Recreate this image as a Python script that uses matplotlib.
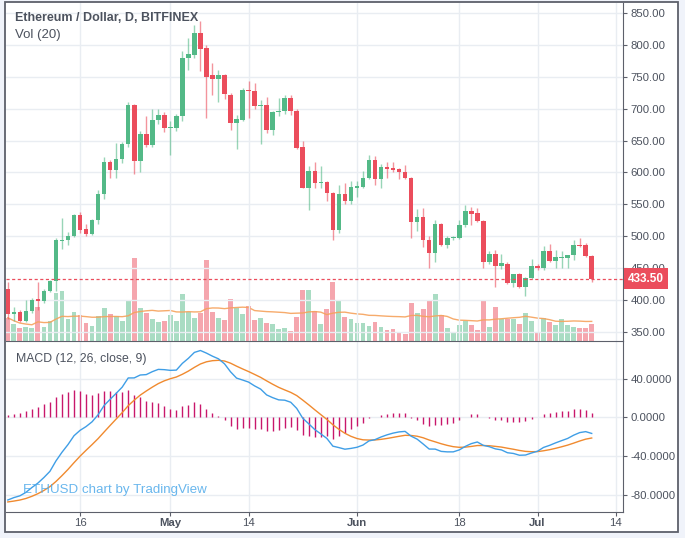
import matplotlib
matplotlib.use("Agg")
import matplotlib.pyplot as plt
import matplotlib.transforms as mtransforms
from matplotlib.patches import Rectangle
import numpy as np
import pandas as pd

W, H = 685, 538

# daily ETHUSD candles, 2018-04-04 .. 2018-07-10
START = "2018-04-04"
opens = [417, 378, 381, 368, 383, 402, 399, 415, 430, 492,
         494, 501, 533, 511, 503, 525, 567, 616, 604, 621,
         644, 705, 618, 661, 643, 683, 690, 670, 670, 688,
         780, 784, 819, 795, 752, 746, 752, 722, 678, 683,
         729, 727, 704, 706, 667, 694, 696, 716, 696, 640,
         576, 603, 584, 585, 568, 510, 566, 555, 576, 578,
         592, 619, 590, 608, 607, 605, 600, 592, 523, 530,
         494, 474, 520, 486, 497, 498, 518, 539, 536, 524,
         460, 473, 454, 457, 427, 441, 420, 435, 454, 451,
         477, 461, 466, 466, 470, 487, 487, 469]
highs = [428, 389, 384, 400, 403, 428, 417, 432, 497, 529,
         506, 535, 538, 520, 527, 572, 625, 620, 646, 648,
         711, 707, 665, 688, 700, 700, 695, 680, 692, 790,
         810, 831, 837, 800, 772, 761, 755, 725, 690, 732,
         743, 740, 714, 718, 697, 717, 722, 722, 699, 649,
         610, 616, 610, 587, 569, 580, 584, 586, 586, 602,
         628, 626, 613, 617, 616, 607, 612, 593, 542, 544,
         500, 525, 521, 500, 501, 526, 549, 546, 545, 526,
         477, 479, 472, 460, 441, 443, 436, 464, 456, 484,
         488, 479, 477, 470, 494, 497, 490, 471]
lows = [370, 368, 366, 366, 380, 385, 395, 412, 415, 480,
        487, 499, 505, 500, 502, 519, 559, 592, 592, 615,
        640, 597, 601, 640, 640, 676, 663, 628, 665, 680,
        761, 780, 759, 685, 722, 711, 715, 667, 637, 680,
        685, 700, 645, 662, 659, 688, 692, 690, 637, 575,
        541, 575, 576, 555, 494, 505, 550, 550, 562, 575,
        590, 581, 576, 592, 600, 590, 590, 497, 508, 483,
        451, 459, 484, 482, 494, 496, 515, 518, 522, 450,
        457, 421, 449, 426, 420, 419, 406, 433, 447, 447,
        460, 451, 451, 451, 463, 483, 467, 428]
closes = [378, 381, 368, 383, 400, 398, 415, 430, 494, 494,
          501, 533, 510, 503, 525, 567, 616, 604, 621, 644,
          705, 618, 661, 643, 683, 690, 670, 671, 688, 780,
          785, 819, 793, 750, 746, 752, 723, 678, 684, 729,
          727, 704, 706, 667, 694, 696, 717, 696, 639, 576,
          603, 584, 585, 568, 510, 566, 555, 577, 579, 592,
          619, 590, 608, 606, 604, 600, 592, 523, 530, 494,
          474, 520, 486, 498, 498, 518, 539, 535, 524, 460,
          473, 454, 458, 427, 441, 420, 435, 454, 451, 477,
          461, 468, 468, 470, 487, 485, 469, 433.5]
volumes = [70, 52, 40, 42, 40, 102, 42, 60, 145, 150,
           65, 87, 78, 54, 45, 75, 100, 82, 74, 60,
           123, 250, 100, 85, 67, 58, 60, 78, 60, 142,
           88, 70, 85, 244, 88, 70, 63, 127, 98, 80,
           105, 63, 68, 55, 52, 36, 38, 30, 73, 153,
           153, 90, 50, 96, 177, 120, 72, 66, 54, 54,
           45, 57, 42, 33, 36, 27, 21, 114, 84, 96,
           123, 141, 78, 39, 24, 48, 60, 48, 33, 123,
           42, 102, 66, 66, 66, 51, 84, 60, 27, 69,
           57, 48, 66, 48, 42, 39, 39, 51]

tick_dates = ["2018-04-16", "2018-05-01", "2018-05-14", "2018-06-01",
              "2018-06-18", "2018-07-01", "2018-07-14"]
tick_labels = ["16", "May", "14", "Jun", "18", "Jul", "14"]
price_ticks = [350, 400, 450, 500, 550, 600, 650, 700, 750, 800, 850]
macd_ticks = [40, 0, -40, -80]

# EMA state on the first visible bar (history before it is off-chart)
EMA12_START, EMA26_START, SIGNAL_START = 429.5, 515.0, -87.5

UP, DOWN = "#53b987", "#eb4d5c"
UP_VOL, DOWN_VOL = "#a9dcc3", "#f5a6ae"
FRAME = "#5d606b"
GRID = "#e9edf2"
TXT = "#4c525e"

plt.rcParams["font.family"] = ["Liberation Sans", "DejaVu Sans"]


def px_axes(fig, x0, y0, x1, y1):
    return fig.add_axes([x0 / W, 1 - y1 / H, (x1 - x0) / W, (y1 - y0) / H])


def macd_lines(c):
    e12 = np.empty(len(c))
    e26 = np.empty(len(c))
    e12[0], e26[0] = EMA12_START, EMA26_START
    for i in range(1, len(c)):
        e12[i] = e12[i - 1] + 2 / 13 * (c[i] - e12[i - 1])
        e26[i] = e26[i - 1] + 2 / 27 * (c[i] - e26[i - 1])
    m = e12 - e26
    s = np.empty(len(c))
    s[0] = SIGNAL_START
    for i in range(1, len(c)):
        s[i] = s[i - 1] + 0.2 * (m[i] - s[i - 1])
    return m, s


def main():
    o = np.array(opens, float)
    hi = np.array(highs, float)
    lo = np.array(lows, float)
    c = np.array(closes, float)
    vol = pd.Series(volumes, dtype=float)
    n = len(c)
    x = np.arange(n)
    start = pd.Timestamp(START)
    tick_pos = [(pd.Timestamp(d) - start).days for d in tick_dates]

    up = c >= o
    col = np.where(up, UP, DOWN)
    vcol = np.where(up, UP_VOL, DOWN_VOL)

    fig = plt.figure(figsize=(W / 100, H / 100), dpi=100, facecolor="#f0f3fa")
    fig.add_artist(Rectangle((5 / W, 1 - 532 / H), 673 / W, 530 / H,
                             transform=fig.transFigure, facecolor="white",
                             edgecolor=FRAME, lw=1.3, zorder=-1))

    ax_p = px_axes(fig, 6, 3, 623, 341)
    ax_m = px_axes(fig, 6, 341, 623, 512)
    ax_v = ax_p.twinx()
    ax_v.set_zorder(1)
    ax_p.set_zorder(2)
    for ax in (ax_p, ax_m, ax_v):
        ax.patch.set_visible(False)
        for s in ax.spines.values():
            s.set_visible(False)
    for ax in (ax_p, ax_m):
        ax.spines["right"].set_visible(True)
        ax.spines["bottom"].set_visible(True)
        ax.spines["right"].set_color(FRAME)
        ax.spines["bottom"].set_color(FRAME)
        ax.set_xlim(-0.3, 102.2)
        ax.set_xticks(tick_pos)
        ax.grid(True, color=GRID, lw=1, zorder=0)
        ax.set_axisbelow(True)
        ax.yaxis.tick_right()
        ax.tick_params(axis="y", length=3, width=0.8, pad=2.5, color=FRAME,
                       labelsize=8.2, labelcolor=TXT)

    # volume pane (behind the candles)
    ax_v.bar(x, vol, width=0.8, color=vcol, lw=0)
    ax_v.plot(x, vol.rolling(20, min_periods=1).mean(), color="#f6a25c", lw=1, alpha=0.9)
    ax_v.set_ylim(0, 1017)
    ax_v.set_yticks([])
    ax_v.tick_params(length=0)

    # candles
    ax_p.vlines(x, lo, hi, colors=col, lw=1, alpha=0.6, zorder=3)
    body_lo = np.minimum(o, c)
    body_h = np.maximum(np.abs(c - o), 1.6)
    ax_p.bar(x, body_h, bottom=body_lo, width=0.76, color=col, lw=0, zorder=4)
    ax_p.set_ylim(335.9, 865.6)
    ax_p.set_yticks(price_ticks)
    ax_p.set_yticklabels([f"{t:.2f}" for t in price_ticks])
    ax_p.tick_params(axis="x", length=0, labelbottom=False)

    last = c[-1]
    ax_p.axhline(last, color=DOWN, lw=0.9, ls=(0, (2.5, 2)), zorder=5)
    tr = mtransforms.blended_transform_factory(ax_p.transAxes, ax_p.transData)
    tr = tr + mtransforms.ScaledTranslation(5 / 100, 0, fig.dpi_scale_trans)
    ax_p.text(1.0, last, f"{last:.2f}", transform=tr, ha="left", va="center",
              color="white", fontsize=8.5, fontweight="bold", clip_on=False,
              bbox=dict(boxstyle="square,pad=0.36", fc=DOWN, ec="none"), zorder=6)

    # MACD pane
    m, s = macd_lines(c)
    hist = m - s
    ax_m.vlines(x, 0, hist, colors="#c8176b", lw=1.0, zorder=2)
    ax_m.plot(x, s, color="#f08a2f", lw=1, zorder=3)
    ax_m.plot(x, m, color="#3f9ee6", lw=1, zorder=4)
    ax_m.set_ylim(-97.9, 78.9)
    ax_m.set_yticks(macd_ticks)
    ax_m.set_yticklabels([f"{t:.4f}" for t in macd_ticks])
    ax_m.set_xticklabels(tick_labels)
    ax_m.tick_params(axis="x", length=3, width=0.8, pad=1.5, color=FRAME,
                     labelsize=8.2, labelcolor=TXT)
    for lab in ax_m.get_xticklabels():
        if lab.get_text().isalpha():
            lab.set_fontweight("bold")

    fig.text(15 / W, 1 - 18 / H, "Ethereum / Dollar, D, BITFINEX", fontsize=9,
             fontweight="bold", color=TXT, va="center", ha="left")
    fig.text(15 / W, 1 - 35 / H, "Vol (20)", fontsize=9.5, color=TXT, va="center", ha="left")
    fig.text(16 / W, 1 - 359 / H, "MACD (12, 26, close, 9)", fontsize=8.8, color=TXT,
             va="center", ha="left")
    fig.text(23 / W, 1 - 490 / H, "ETHUSD chart by TradingView", fontsize=9.6,
             color="#4faaea", alpha=0.85, va="center", ha="left", zorder=10)

    fig.savefig("out.png", dpi=100, facecolor=fig.get_facecolor())
    plt.close(fig)


if __name__ == "__main__":
    main()
